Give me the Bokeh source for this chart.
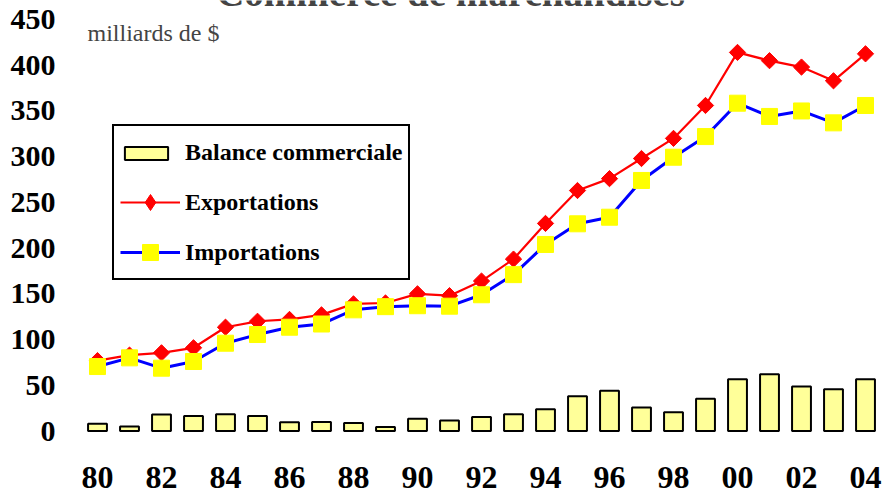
import numpy as np
from bokeh.plotting import figure
from bokeh.models import (ColumnDataSource, FixedTicker, Range1d, Legend, LegendItem, Label)
from bokeh.embed import file_html
from bokeh.resources import INLINE

# ---- data ----
years = list(range(1980, 2005))
year_labels = ["80", "81", "82", "83", "84", "85", "86", "87", "88", "89", "90", "91", "92",
               "93", "94", "95", "96", "97", "98", "99", "00", "01", "02", "03", "04"]
exportations = [77, 83, 85.5, 91, 113.5, 120, 122, 127, 139, 140, 150, 148, 164,
                188, 227, 263, 276, 298, 320, 356, 414, 405, 398, 383, 412.5]
importations = [70.5, 80, 68.7, 76, 96, 105.5, 113.5, 117, 132.5, 136, 137, 136.5, 149,
                171, 204, 226.6, 233.8, 274, 299.4, 322, 358.5, 344, 350, 337, 356]
balance = [8, 5, 18, 16.4, 18.3, 16.4, 9.5, 9.8, 8.7, 4.4, 13.5, 11.4, 15.3,
           18.3, 23.7, 38, 44, 25.6, 20.4, 35.4, 56.5, 62, 48.6, 45.6, 56.5]
y_ticks = [0, 50, 100, 150, 200, 250, 300, 350, 400, 450]
x_ticks = [1980, 1982, 1984, 1986, 1988, 1990, 1992, 1994, 1996, 1998, 2000, 2002, 2004]

src = ColumnDataSource(dict(year=years, exp=exportations, imp=importations, bal=balance))

# ---- geometry (screenshot pixels) ----
W, H = 882, 493
frame_left_px, frame_bottom_px = 75, 462
px_per_year, x0_px = 32.0, 97.0
px_per_unit, y0_px = 0.9144, 430.5

def xd(px):
    return 1980 + (px - x0_px) / px_per_year

def yd(py):
    return (y0_px - py) / px_per_unit

p = figure(width=W, height=H, output_backend="svg", toolbar_location=None,
           x_range=Range1d(xd(frame_left_px), xd(W)),
           y_range=Range1d(yd(frame_bottom_px), yd(0)),
           min_border_left=frame_left_px, min_border_right=0,
           min_border_top=0, min_border_bottom=H - frame_bottom_px)
p.outline_line_color = None
p.xgrid.visible = False
p.ygrid.visible = False
p.background_fill_color = "white"
p.border_fill_color = "white"

serif = "Liberation Serif"

for ax in (p.xaxis[0], p.yaxis[0]):
    ax.axis_line_color = None
    ax.major_tick_line_color = None
    ax.minor_tick_line_color = None
    ax.major_tick_out = 0
    ax.major_tick_in = 0
    ax.major_label_text_font = serif
    ax.major_label_text_font_style = "bold"
    ax.major_label_text_color = "black"

p.xaxis.ticker = FixedTicker(ticks=x_ticks)
p.xaxis.major_label_overrides = {y: lab for y, lab in zip(years, year_labels)}
p.xaxis.major_label_text_font_size = "32px"
p.xaxis.major_label_text_line_height = 0.8
p.xaxis.major_label_standoff = 4
p.yaxis.ticker = FixedTicker(ticks=y_ticks)
p.yaxis.major_label_text_font_size = "30px"
p.yaxis.major_label_standoff = 20

bars = p.vbar(x="year", top="bal", bottom=0, width=0.59, source=src,
              fill_color="#FFFF99", line_color="black", line_width=2)
l_exp = p.line("year", "exp", source=src, line_color="#FF0000", line_width=2.2)
m_exp = p.scatter("year", "exp", source=src, marker="square", size=11.5, angle=np.pi / 4,
                  fill_color="#FF0000", line_color="#FF0000")
l_imp = p.line("year", "imp", source=src, line_color="#0000FF", line_width=3)
m_imp = p.scatter("year", "imp", source=src, marker="square", size=16,
                  fill_color="#FFFF00", line_color="#FFFF00")

# legend-only helper renderers (nothing drawn in the plot)
blank = p.line(x=[np.nan], y=[np.nan], line_alpha=0)
key_diamond = p.scatter(x=[np.nan], y=[np.nan], marker="diamond", size=16,
                        fill_color="#FF0000", line_color="#FF0000")

legend = Legend(items=[
    LegendItem(label="Balance commerciale", renderers=[blank]),
    LegendItem(label="Exportations", renderers=[l_exp, key_diamond]),
    LegendItem(label="Importations", renderers=[l_imp, m_imp]),
], location=(112 - frame_left_px, frame_bottom_px - 280))
legend.label_text_font = serif
legend.label_text_font_style = "bold"
legend.label_text_font_size = "24px"
legend.label_text_color = "black"
legend.glyph_width = 60
legend.glyph_height = 40
legend.label_height = 26
legend.label_standoff = 5
legend.spacing = 10
legend.padding = 6
legend.margin = 0
legend.border_line_color = "black"
legend.border_line_width = 2
legend.border_line_alpha = 1
legend.background_fill_color = "white"
legend.background_fill_alpha = 1
p.add_layout(legend, "center")

bar_key = Legend(items=[LegendItem(label=" ", renderers=[bars])],
                 location=(119 - frame_left_px, frame_bottom_px - 161))
bar_key.glyph_width = 54
bar_key.glyph_height = 16
bar_key.label_height = 16
bar_key.label_text_font_size = "8px"
bar_key.label_standoff = 0
bar_key.padding = 0
bar_key.margin = 0
bar_key.spacing = 0
bar_key.border_line_color = None
bar_key.background_fill_alpha = 0
p.add_layout(bar_key, "center")

# text anchors sit ~0.35em above the drawn baseline in this renderer
title = Label(x=xd(450), y=yd(-8),
              text="Commerce de marchandises", text_font=serif, text_font_style="bold",
              text_font_size="39px", text_align="center", text_baseline="alphabetic")
p.add_layout(title)
unit = Label(x=xd(87), y=yd(32),
             text="milliards de $", text_font=serif, text_font_size="24px",
             text_align="left", text_baseline="alphabetic")
p.add_layout(unit)

open("out.html", "w").write(file_html(p, INLINE))
